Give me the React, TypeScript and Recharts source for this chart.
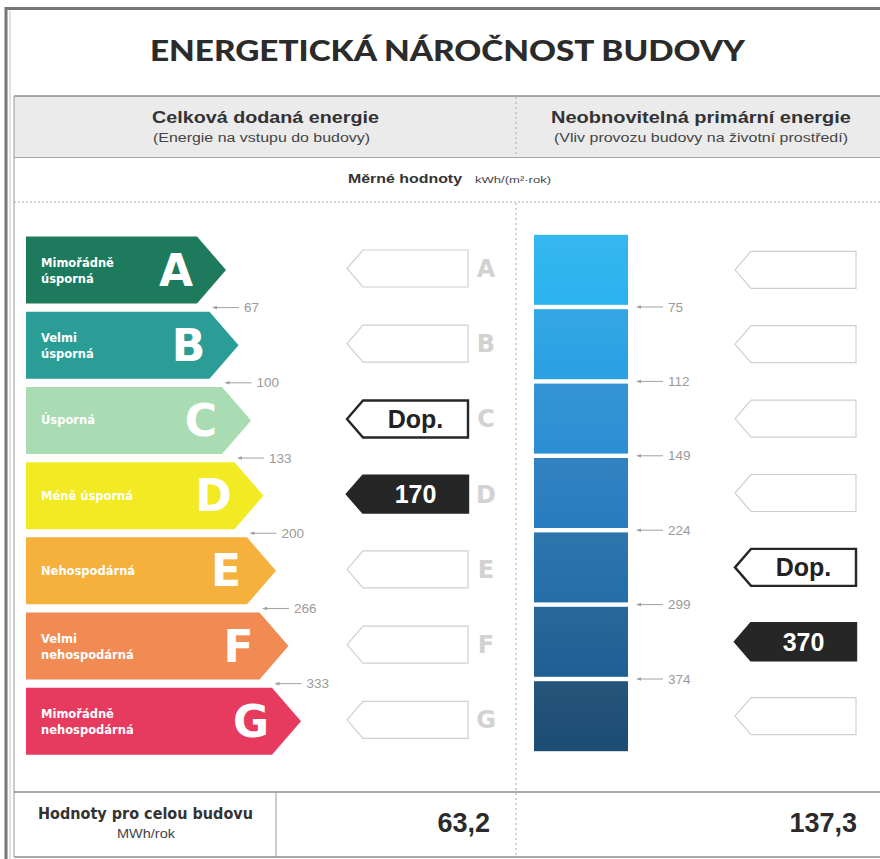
import React from 'react';
import { BarChart, Bar, XAxis, YAxis } from 'recharts';

// energy classes, top (best) to bottom (worst)
const classes = ['A', 'B', 'C', 'D', 'E', 'F', 'G'];
const classNames = [
  ['Mimořádně', 'úsporná'],
  ['Velmi', 'úsporná'],
  ['Úsporná'],
  ['Méně úsporná'],
  ['Nehospodárná'],
  ['Velmi', 'nehospodárná'],
  ['Mimořádně', 'nehospodárná'],
];
// relative length of the class arrows
const classScale = [8, 8.5, 9, 9.5, 10, 10.5, 11];
// class limits kWh/(m2.rok)
const deliveredLimits = [67, 100, 133, 200, 266, 333];
const primaryLimits = [75, 112, 149, 224, 299, 374];
const primaryBand = [1, 1, 1, 1, 1, 1, 1];

const deliveredValue = 170;
const deliveredClass = 'D';
const deliveredRefClass = 'C';
const deliveredTotal = '63,2';

const primaryValue = 370;
const primaryClass = 'F';
const primaryRefClass = 'E';
const primaryTotal = '137,3';

const classColors = ['#1d7a5d', '#2a9e96', '#a9dcb3', '#f2ea22', '#f5b13c', '#f28a54', '#e63a5e'];
const blueColors = ['#2bb3ee', '#2aa1e2', '#2a8fd2', '#287cbe', '#236ea9', '#1f5f94', '#1b4c74'];

const SANS = '"Liberation Sans", Arial, sans-serif';
const WIDE = '"DejaVu Sans", Verdana, sans-serif';

const deliveredData = classes.map((c, i) => ({ cls: c, len: classScale[i], limit: deliveredLimits[i] ?? null }));
const primaryData = classes.map((c, i) => ({ cls: c, band: primaryBand[i], limit: primaryLimits[i] ?? null }));

function Pointer({ x, cy, kind, text }: { x: number; cy: number; kind: 'empty' | 'ref' | 'value'; text?: string }) {
  const h = 18.5;
  const d = `M${x},${cy}L${x + 16},${cy - h}H${x + 121}V${cy + h}H${x + 16}Z`;
  if (kind === 'empty') {
    return <path d={d} fill="#fff" stroke="#cfcfcf" strokeWidth={1.2} />;
  }
  const dark = kind === 'value';
  return (
    <g>
      <path d={d} fill={dark ? '#262626' : '#fff'} stroke="#262626" strokeWidth={2.4} strokeLinejoin="miter" />
      <text x={x + 68.5} y={cy + 9} textAnchor="middle" fontFamily={SANS} fontWeight={700} fontSize={25} fill={dark ? '#fff' : '#222'}>
        {text}
      </text>
    </g>
  );
}

function LimitMark({ x, y, value }: { x: number; y: number; value: number }) {
  return (
    <g>
      <line x1={x + 2} y1={y} x2={x + 27} y2={y} stroke="#a0a0a0" strokeWidth={1} />
      <path d={`M${x},${y}L${x + 5},${y - 1.8}V${y + 1.8}Z`} fill="#a0a0a0" />
      <text x={x + 32} y={y + 4.5} fontFamily={SANS} fontSize={13.5} fill="#9a9a9a">
        {value}
      </text>
    </g>
  );
}

const DeliveredShape = (props: any) => {
  const { x, y, width, height, index, payload } = props;
  const tip = x + width;
  const cy = y + height / 2;
  const names = classNames[index];
  const kind = payload.cls === deliveredClass ? 'value' : payload.cls === deliveredRefClass ? 'ref' : 'empty';
  const text = kind === 'value' ? String(deliveredValue) : kind === 'ref' ? 'Dop.' : undefined;
  return (
    <g>
      <path d={`M${x},${y}H${tip - 29}L${tip},${cy}L${tip - 29},${y + height}H${x}Z`} fill={classColors[index]} />
      <text fontFamily={WIDE} fontWeight={700} fontSize={11.5} fill="#fff">
        {names.length === 2 ? (
          <>
            <tspan x={x + 15} y={cy - 3}>{names[0]}</tspan>
            <tspan x={x + 15} y={cy + 13}>{names[1]}</tspan>
          </>
        ) : (
          <tspan x={x + 15} y={cy + 4}>{names[0]}</tspan>
        )}
      </text>
      <text x={tip - 50} y={cy + 15.5} textAnchor="middle" fontFamily={WIDE} fontWeight={700} fontSize={44} fill="#fff">
        {payload.cls}
      </text>
      <Pointer x={347} cy={cy - 1.5} kind={kind} text={text} />
      <text x={486} y={cy + 7} textAnchor="middle" fontFamily={WIDE} fontWeight={700} fontSize={24} fill="#d2d2d2">
        {payload.cls}
      </text>
      {payload.limit != null && <LimitMark x={tip - 14} y={y + height + 4.1} value={payload.limit} />}
    </g>
  );
};

const PrimaryShape = (props: any) => {
  const { x, y, width, height, index, payload } = props;
  const cy = y + height / 2;
  const kind = payload.cls === primaryClass ? 'value' : payload.cls === primaryRefClass ? 'ref' : 'empty';
  const text = kind === 'value' ? String(primaryValue) : kind === 'ref' ? 'Dop.' : undefined;
  return (
    <g>
      <rect x={x} y={y} width={width} height={height} fill={`url(#blue${index})`} />
      <Pointer x={735} cy={cy} kind={kind} text={text} />
      {payload.limit != null && <LimitMark x={x + width + 8} y={y + height + 2.2} value={payload.limit} />}
    </g>
  );
};

function Frame() {
  return (
    <svg width={880} height={859} style={{ position: 'absolute', left: 0, top: 0 }}>
      <rect x={0} y={0} width={880} height={859} fill="#fff" />
      <rect x={6} y={8.5} width={900} height={900} fill="none" stroke="#767676" strokeWidth={3} />
      <line x1={10} y1={11} x2={10} y2={859} stroke="#c4c4c4" strokeWidth={1} />
      <text x={150} y={61} textLength={595} lengthAdjust="spacingAndGlyphs" fontFamily="Lato, sans-serif" fontWeight={900} fontSize={29} fill="#2b2b2b">
        ENERGETICKÁ NÁROČNOST BUDOVY
      </text>

      <rect x={14} y={96} width={866} height={61} fill="#ebebeb" />
      <line x1={14} y1={96} x2={880} y2={96} stroke="#8c8c8c" strokeWidth={1.5} />
      <line x1={14} y1={157.5} x2={880} y2={157.5} stroke="#a5a5a5" strokeWidth={1} />
      <line x1={14} y1={96} x2={14} y2={857} stroke="#9a9a9a" strokeWidth={1} />
      <line x1={516} y1={97} x2={516} y2={157} stroke="#a8a8a8" strokeDasharray="2 3" />
      <line x1={516} y1={203} x2={516} y2={857} stroke="#a8a8a8" strokeDasharray="2 3" />
      <line x1={14} y1={202} x2={880} y2={202} stroke="#a8a8a8" strokeDasharray="2 2" />

      <text x={152} y={123} textLength={227} lengthAdjust="spacingAndGlyphs" fontFamily={SANS} fontWeight={700} fontSize={16.5} fill="#333">
        Celková dodaná energie
      </text>
      <text x={153} y={142} textLength={217} lengthAdjust="spacingAndGlyphs" fontFamily={SANS} fontSize={12.5} fill="#444">
        (Energie na vstupu do budovy)
      </text>
      <text x={551} y={123} textLength={300} lengthAdjust="spacingAndGlyphs" fontFamily={SANS} fontWeight={700} fontSize={16.5} fill="#333">
        Neobnovitelná primární energie
      </text>
      <text x={554} y={142} textLength={294} lengthAdjust="spacingAndGlyphs" fontFamily={SANS} fontSize={12.5} fill="#444">
        (Vliv provozu budovy na životní prostředí)
      </text>

      <text x={348} y={183} textLength={114} lengthAdjust="spacingAndGlyphs" fontFamily={SANS} fontWeight={700} fontSize={13.5} fill="#333">
        Měrné hodnoty
      </text>
      <text x={475} y={183} textLength={76} lengthAdjust="spacingAndGlyphs" fontFamily={SANS} fontSize={9.5} fill="#444">
        kWh/(m²·rok)
      </text>

      <line x1={14} y1={792} x2={880} y2={792} stroke="#8c8c8c" strokeWidth={1.5} />
      <line x1={276} y1={792} x2={276} y2={857} stroke="#9a9a9a" strokeWidth={1} />
      <line x1={14} y1={857} x2={880} y2={857} stroke="#8c8c8c" strokeWidth={1.5} />
      <text x={38} y={819} textLength={215} lengthAdjust="spacingAndGlyphs" fontFamily={WIDE} fontWeight={700} fontSize={15} fill="#333">
        Hodnoty pro celou budovu
      </text>
      <text x={117} y={838} textLength={58} lengthAdjust="spacingAndGlyphs" fontFamily={SANS} fontSize={12.5} fill="#444">
        MWh/rok
      </text>
      <text x={490} y={832} textAnchor="end" fontFamily={SANS} fontWeight={700} fontSize={27} fill="#2b2b2b">
        {deliveredTotal}
      </text>
      <text x={857} y={832} textAnchor="end" fontFamily={SANS} fontWeight={700} fontSize={27} fill="#2b2b2b">
        {primaryTotal}
      </text>
    </svg>
  );
}

export default function App() {
  return (
    <div style={{ position: 'absolute', left: 0, top: 0, width: 880, height: 859, overflow: 'hidden', background: '#fff' }}>
      <Frame />
      <div style={{ position: 'absolute', left: 0, top: 0 }}>
        <BarChart layout="vertical" width={880} height={859} data={deliveredData} margin={{ top: 232.5, right: 404, bottom: 100, left: 26 }}>
          <XAxis type="number" domain={[0, 18]} hide />
          <YAxis type="category" dataKey="cls" hide />
          <Bar dataKey="len" barSize={67} shape={DeliveredShape} isAnimationActive={false} />
        </BarChart>
      </div>
      <div style={{ position: 'absolute', left: 0, top: 0 }}>
        <BarChart layout="vertical" width={880} height={859} data={primaryData} margin={{ top: 232.8, right: 252, bottom: 105.4, left: 534 }}>
          <defs>
            {blueColors.map((c, i) => (
              <linearGradient key={c} id={`blue${i}`} x1="0" y1="0" x2="0" y2="1">
                <stop offset="0%" stopColor={c} stopOpacity={0.95} />
                <stop offset="100%" stopColor={c} stopOpacity={1} />
              </linearGradient>
            ))}
          </defs>
          <XAxis type="number" domain={[0, 1]} hide />
          <YAxis type="category" dataKey="cls" hide />
          <Bar dataKey="band" barSize={70} shape={PrimaryShape} isAnimationActive={false} />
        </BarChart>
      </div>
    </div>
  );
}
